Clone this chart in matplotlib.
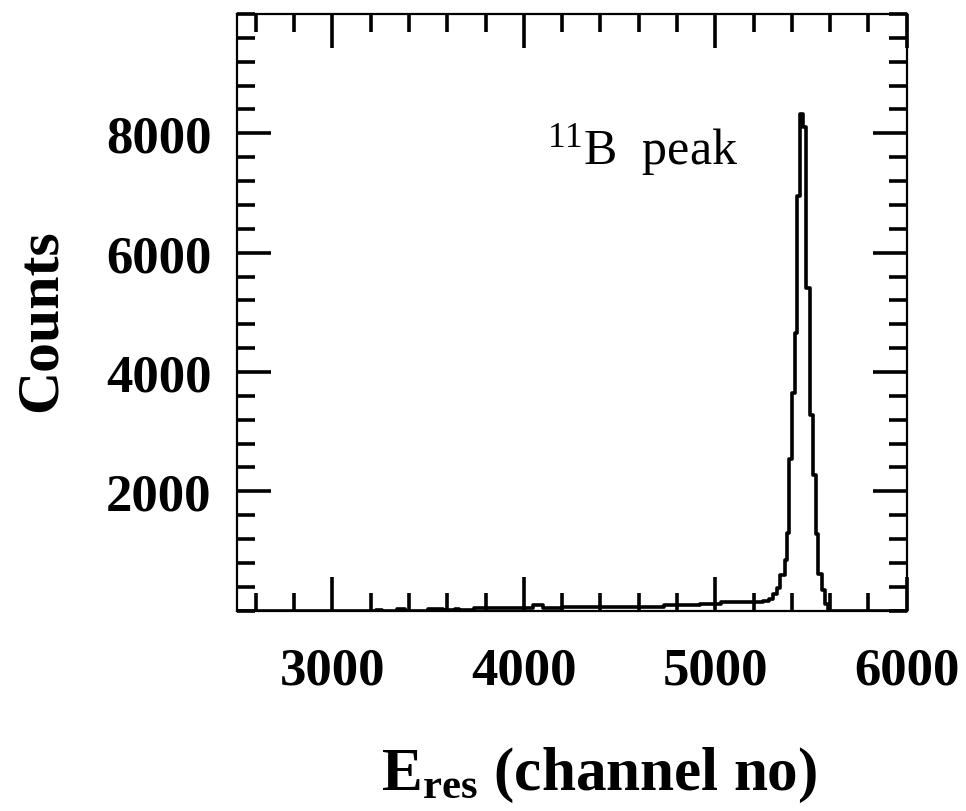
import matplotlib
matplotlib.use('Agg')
import matplotlib.pyplot as plt
from matplotlib.ticker import MultipleLocator

# spectrum: left edge of each step and its counts
channel = [2500, 3230, 3260, 3340, 3380, 3500, 3580, 3640, 3660, 3740,
           3850, 4000, 4050, 4100, 4200, 4400, 4560, 4730, 4920, 5030,
           5250, 5280, 5300, 5320, 5339, 5365, 5377, 5387, 5400, 5417,
           5426, 5443, 5460, 5474, 5495, 5512, 5527, 5539, 5556, 5574,
           5590, 6000]
counts = [0, 15, 0, 20, 0, 25, 10, 20, 5, 45,
          40, 50, 90, 45, 60, 65, 70, 90, 120, 150,
          160, 200, 280, 380, 600, 850, 1300, 2550, 3650, 4650,
          6950, 8320, 8100, 5400, 3280, 2280, 1280, 620, 340, 120,
          0, 0]

xticks = [3000, 4000, 5000, 6000]
yticks = [2000, 4000, 6000, 8000]

plt.rcParams['font.family'] = 'Liberation Serif'
plt.rcParams['mathtext.fontset'] = 'custom'
plt.rcParams['mathtext.rm'] = 'Liberation Serif'
plt.rcParams['mathtext.it'] = 'Liberation Serif:italic'
plt.rcParams['mathtext.bf'] = 'Liberation Serif:bold'

fig = plt.figure(figsize=(9.66, 8.12), dpi=100)
ax = fig.add_axes([0.245, 0.2467, 0.6936, 0.7348])

ax.step(channel, counts, where='post', color='black', lw=2.6)

ax.set_xlim(2500, 6000)
ax.set_ylim(0, 10000)
ax.set_xticks(xticks)
ax.set_yticks(yticks)
ax.xaxis.set_minor_locator(MultipleLocator(200))
ax.yaxis.set_minor_locator(MultipleLocator(400))
ax.tick_params(which='both', direction='in', top=True, right=True, width=2.6)
ax.tick_params(which='major', length=24.5)
ax.tick_params(which='minor', length=13)
ax.tick_params(axis='x', which='major', pad=26)
ax.tick_params(axis='y', which='major', pad=18)
for lab in ax.get_xticklabels() + ax.get_yticklabels():
    lab.set_fontsize(38)
    lab.set_fontweight('bold')
for sp in ax.spines.values():
    sp.set_linewidth(1.6)

ax.set_ylabel('Counts', fontsize=43, fontweight='bold', va='center', ha='center')
ax.yaxis.set_label_coords(-0.2906, 0.487)
ax.set_xlabel(r'$\mathbf{E_{res}}$ (channel no)', fontsize=44, fontweight='bold',
              va='baseline', ha='center')
ax.xaxis.set_label_coords(0.541, -0.2988)

ax.text(4121, 7500, r'$^{11}$B  peak', fontsize=36, ha='left', va='baseline')

fig.savefig('out.png', dpi=100)
